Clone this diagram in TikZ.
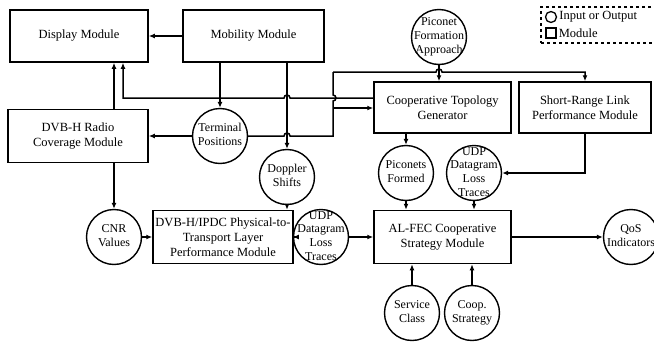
\documentclass[tikz,border=0pt]{standalone}
\usepackage{fontspec}
\setmainfont{Liberation Serif}
\usetikzlibrary{arrows.meta}
\newcommand{\ctext}[1]{\smash{\raisebox{-.25em}{\begin{tabular}{@{}c@{}}#1\end{tabular}}}}
\begin{document}
\begin{tikzpicture}[x=1pt,y=-1pt,
  module/.style={draw,line width=1.5pt,align=center,inner sep=0pt,font=\fontsize{12.5}{15}\selectfont},
  io/.style={draw,circle,line width=1.4pt,minimum size=55pt,inner sep=0pt,font=\fontsize{12}{13.8}\selectfont},
  link/.style={line width=1.5pt,-{Latex[length=6pt,width=5pt]}},
  line/.style={line width=1.5pt}]
\useasboundingbox (0,0) rectangle (654,343);
\node[module,minimum width=138pt,minimum height=52pt] (display) at (79,36) {Display Module};
\node[module,minimum width=141pt,minimum height=52pt] (mobility) at (253.5,36) {Mobility Module};
\node[module,minimum width=140pt,minimum height=53pt] (radio) at (78,136) {DVB-H Radio\\Coverage Module};
\node[module,minimum width=137pt,minimum height=51pt] (topo) at (442.5,107.5) {Cooperative Topology\\Generator};
\node[module,minimum width=132pt,minimum height=51pt] (srl) at (585,107.5) {Short-Range Link\\Performance Module};
\node[module,minimum width=140pt,minimum height=53pt] (ipdc) at (223,237) {DVB-H/IPDC Physical-to-\\Transport Layer\\Performance Module};
\node[module,minimum width=137pt,minimum height=53pt] (alfec) at (442.5,237) {AL-FEC Cooperative\\Strategy Module};
\node[io] (pfa) at (439,37) {\ctext{Piconet\\Formation\\Approach}};
\node[io] (term) at (220,136) {\ctext{Terminal\\Positions}};
\node[io] (doppler) at (287,177) {\ctext{Doppler\\Shifts}};
\node[io] (cnr) at (114,237) {\ctext{CNR\\Values}};
\node[io] (udpa) at (321,237) {\ctext{UDP\\Datagram\\Loss\\Traces}};
\node[io] (picf) at (406,173) {\ctext{Piconets\\Formed}};
\node[io] (udpb) at (474,173) {\ctext{UDP\\Datagram\\Loss\\Traces}};
\node[io] (qos) at (631,237) {\ctext{QoS\\Indicators}};
\node[io] (service) at (412,313) {\ctext{Service\\Class}};
\node[io] (coopstr) at (472,313) {\ctext{Coop.\\Strategy}};
\node[draw,dashed,line width=1.3pt,minimum width=130pt,minimum height=36pt] (legend) at (606,25) {};
\node[draw,circle,line width=1.3pt,minimum size=11pt,inner sep=0pt] (legcirc) at (551,17) {};
\node[right,inner sep=2pt,font=\fontsize{12.5}{14}\selectfont] (legcirctxt) at (legcirc.east) {Input or Output};
\node[draw,line width=1.3pt,minimum size=10pt,inner sep=0pt] (legbox) at (551,33) {};
\node[right,inner sep=2pt,font=\fontsize{12.5}{14}\selectfont] (legboxtxt) at (legbox.east) {Module};
\coordinate (upl) at (333,72);
\coordinate (tpin) at (333,108);
\draw[link] (mobility) -- (display);
\draw[link] (mobility.south -| term) -- (term);
\draw[link] (mobility.south -| doppler) -- (doppler);
\draw[link] (radio.north -| cnr) -- (display.south -| cnr);
\draw[link] (radio.south -| cnr) -- (cnr);
\draw[link] (term) -- (radio);
\draw[link] (topo.west |- 0,98) -- (290,98) arc[start angle=0,end angle=-180,radius=3] -- (123,98) -- (display.south -| 123,0);
\draw[line] (term.east) -- (284,136) arc[start angle=180,end angle=360,radius=3] -- (333,136) -- (333,101) arc[start angle=90,end angle=-90,radius=3] -- (upl);
\draw[link] (upl) -- (436,72) arc[start angle=180,end angle=360,radius=3] -- (srl.north |- upl) -- (srl.north);
\draw[link] (tpin) -- (tpin -| topo.west);
\draw[link] (pfa) -- (topo.north -| pfa);
\draw[link] (topo.south -| picf) -- (picf);
\draw[link] (picf) -- (alfec.north -| picf);
\draw[link] (udpb) -- (alfec.north -| udpb);
\draw[link] (srl.south) -- (srl.south |- udpb) -- (udpb);
\draw[link] (doppler) -- (ipdc.north -| doppler);
\draw[link] (cnr) -- (ipdc);
\draw[link] (ipdc) -- (udpa);
\draw[link] (udpa) -- (alfec);
\draw[link] (alfec) -- (qos);
\draw[link] (service) -- (alfec.south -| service);
\draw[link] (coopstr) -- (alfec.south -| coopstr);
\end{tikzpicture}
\end{document}
